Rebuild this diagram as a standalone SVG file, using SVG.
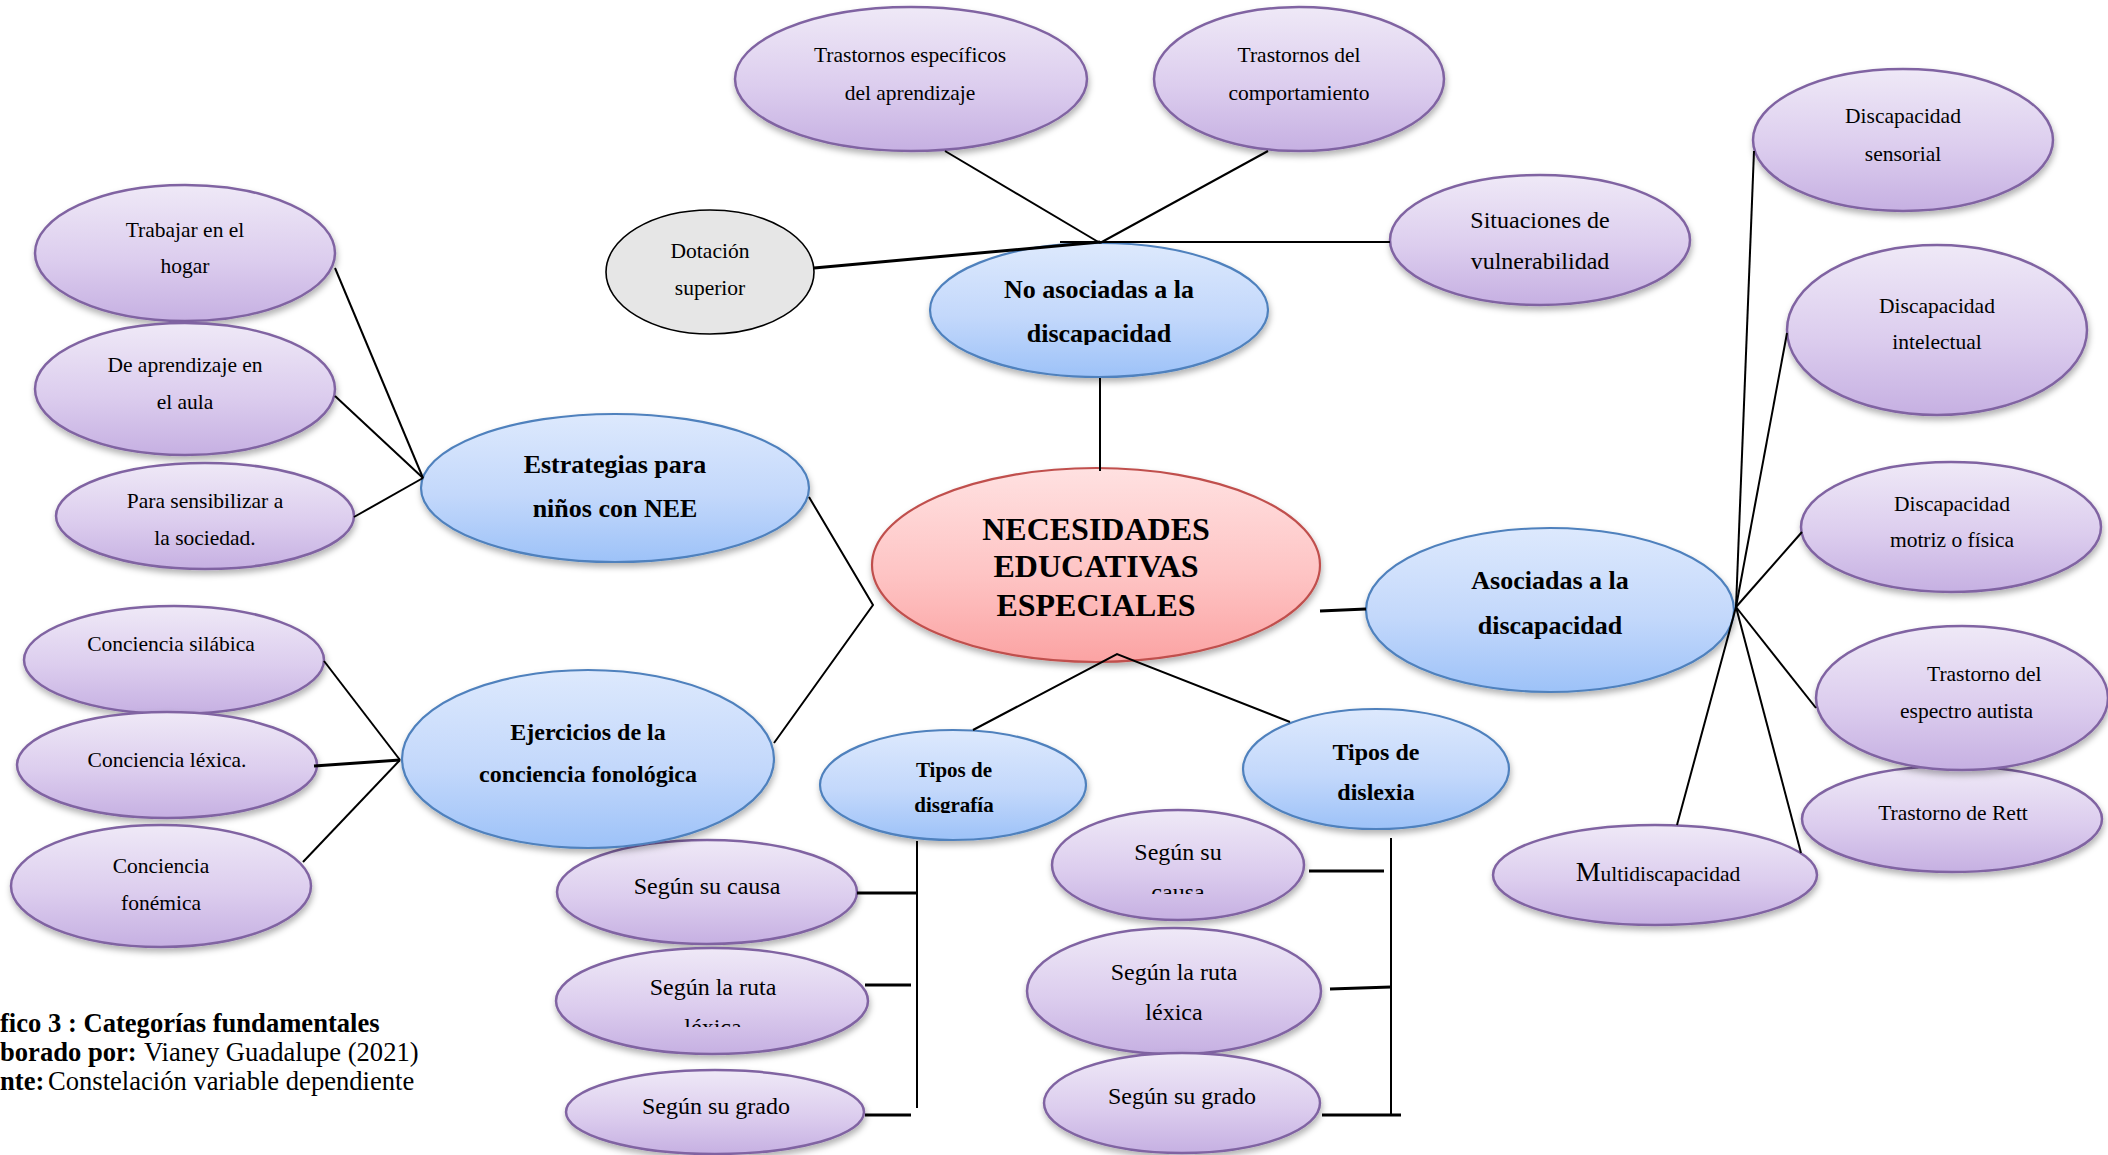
<svg xmlns="http://www.w3.org/2000/svg" width="2108" height="1155" viewBox="0 0 2108 1155">
<style>
text{font-family:"Liberation Serif","Times New Roman",serif;fill:#000;text-anchor:middle}
.p{fill:url(#gp);stroke:#8064a2;stroke-width:2.5;filter:url(#sh)}
.b{fill:url(#gb);stroke:#4f81bd;stroke-width:2.2;filter:url(#sh)}
.r{fill:url(#gr);stroke:#c0504d;stroke-width:2.2;filter:url(#sh)}
.g{fill:#e6e6e6;stroke:#000;stroke-width:1.6}
.s21{font-size:21.5px}
.s24{font-size:24px}
.b21{font-size:21px;font-weight:bold}
.b24{font-size:24px;font-weight:bold}
.b26{font-size:26px;font-weight:bold}
.b32{font-size:32px;font-weight:bold}
.cap{font-size:26.6px;text-anchor:start}
#connectors line,#connectors polyline{stroke:#000;stroke-width:2;fill:none}
#connectors .k{stroke-width:3}
</style>
<defs>
<linearGradient id="gp" x1="0" y1="0" x2="0" y2="1"><stop offset="0" stop-color="#efe9f7"/><stop offset="0.55" stop-color="#dccdee"/><stop offset="1" stop-color="#c6b0e2"/></linearGradient>
<linearGradient id="gb" x1="0" y1="0" x2="0" y2="1"><stop offset="0" stop-color="#dde9fd"/><stop offset="0.55" stop-color="#c3d8fb"/><stop offset="1" stop-color="#9dc2f8"/></linearGradient>
<linearGradient id="gr" x1="0" y1="0" x2="0" y2="1"><stop offset="0" stop-color="#ffe1e1"/><stop offset="0.55" stop-color="#fec4c4"/><stop offset="1" stop-color="#fba3a3"/></linearGradient>
<filter id="sh" x="-10%" y="-10%" width="120%" height="130%"><feDropShadow dx="1" dy="4" stdDeviation="3" flood-color="#000" flood-opacity="0.3"/></filter>
<clipPath id="c1" clipPathUnits="userSpaceOnUse"><rect x="900" y="320" width="400" height="25"/></clipPath>
<clipPath id="c2" clipPathUnits="userSpaceOnUse"><rect x="50" y="520" width="320" height="27"/></clipPath>
<clipPath id="c3" clipPathUnits="userSpaceOnUse"><rect x="820" y="790" width="270" height="23"/></clipPath>
<clipPath id="c4" clipPathUnits="userSpaceOnUse"><rect x="560" y="1005" width="310" height="22"/></clipPath>
<clipPath id="c5" clipPathUnits="userSpaceOnUse"><rect x="1050" y="870" width="260" height="24"/></clipPath>
</defs>
<rect x="0" y="0" width="2108" height="1155" fill="#fff"/>

<g id="n-trastornos-especificos"><ellipse class="p" cx="911" cy="79" rx="176" ry="72"/><text class="s21" x="910" y="62">Trastornos específicos</text><text class="s21" x="910" y="100">del aprendizaje</text></g>
<g id="n-trastornos-comportamiento"><ellipse class="p" cx="1299" cy="79" rx="145" ry="72"/><text class="s21" x="1299" y="62">Trastornos del</text><text class="s21" x="1299" y="100">comportamiento</text></g>
<g id="n-disc-sensorial"><ellipse class="p" cx="1903" cy="140" rx="150" ry="71"/><text class="s21" x="1903" y="123">Discapacidad</text><text class="s21" x="1903" y="161">sensorial</text></g>
<g id="n-situaciones"><ellipse class="p" cx="1540" cy="240" rx="150" ry="65"/><text class="s24" x="1540" y="228">Situaciones de</text><text class="s24" x="1540" y="269">vulnerabilidad</text></g>
<g id="n-dotacion"><ellipse class="g" cx="710" cy="272" rx="104" ry="62"/><text class="s21" x="710" y="258">Dotación</text><text class="s21" x="710" y="295">superior</text></g>
<g id="n-no-asociadas"><ellipse class="b" cx="1099" cy="310" rx="169" ry="67"/><text class="b26" x="1099" y="298">No asociadas a la</text><text class="b26" x="1099" y="342" clip-path="url(#c1)">discapacidad</text></g>
<g id="n-disc-intelectual"><ellipse class="p" cx="1937" cy="330" rx="150" ry="85"/><text class="s21" x="1937" y="313">Discapacidad</text><text class="s21" x="1937" y="349">intelectual</text></g>
<g id="n-disc-motriz"><ellipse class="p" cx="1951" cy="527" rx="150" ry="65"/><text class="s21" x="1952" y="511">Discapacidad</text><text class="s21" x="1952" y="547">motriz o física</text></g>
<g id="n-trabajar-hogar"><ellipse class="p" cx="185" cy="253" rx="150" ry="68"/><text class="s21" x="185" y="237">Trabajar en el</text><text class="s21" x="185" y="273">hogar</text></g>
<g id="n-aprendizaje-aula"><ellipse class="p" cx="185" cy="389" rx="150" ry="66"/><text class="s21" x="185" y="372">De aprendizaje en</text><text class="s21" x="185" y="409">el aula</text></g>
<g id="n-sensibilizar"><ellipse class="p" cx="205" cy="516" rx="149" ry="53"/><text class="s21" x="205" y="508">Para sensibilizar a</text><text class="s21" x="205" y="545" clip-path="url(#c2)">la sociedad.</text></g>
<g id="n-estrategias"><ellipse class="b" cx="615" cy="488" rx="194" ry="74"/><text class="b26" x="615" y="473">Estrategias para</text><text class="b26" x="615" y="517">niños con NEE</text></g>
<g id="n-nee"><ellipse class="r" cx="1096" cy="565" rx="224" ry="97"/><text class="b32" x="1096" y="540">NECESIDADES</text><text class="b32" x="1096" y="577">EDUCATIVAS</text><text class="b32" x="1096" y="616">ESPECIALES</text></g>
<g id="n-asociadas"><ellipse class="b" cx="1550" cy="610" rx="184" ry="82"/><text class="b26" x="1550" y="589">Asociadas a la</text><text class="b26" x="1550" y="634">discapacidad</text></g>
<g id="n-trastorno-rett"><ellipse class="p" cx="1952" cy="819" rx="150" ry="53"/><text class="s21" x="1953" y="820">Trastorno de Rett</text></g>
<g id="n-autista"><ellipse class="p" cx="1962" cy="698" rx="146" ry="72"/><text class="s21" x="1927" y="681" style="text-anchor:start">Trastorno del</text><text class="s21" x="1900" y="718" style="text-anchor:start">espectro autista</text></g>
<g id="n-multidiscapacidad"><ellipse class="p" cx="1655" cy="875" rx="162" ry="50"/><text class="s21" x="1658" y="881"><tspan style="font-size:28px">M</tspan>ultidiscapacidad</text></g>
<g id="n-conc-silabica"><ellipse class="p" cx="174" cy="660" rx="150" ry="54"/><text class="s21" x="171" y="651">Conciencia silábica</text></g>
<g id="n-conc-lexica"><ellipse class="p" cx="167" cy="765" rx="150" ry="53"/><text class="s21" x="167" y="767">Conciencia léxica.</text></g>
<g id="n-conc-fonemica"><ellipse class="p" cx="161" cy="886" rx="150" ry="61"/><text class="s21" x="161" y="873">Conciencia</text><text class="s21" x="161" y="910">fonémica</text></g>
<g id="n-g-causa"><ellipse class="p" cx="707" cy="892" rx="150" ry="52"/><text class="s24" x="707" y="894">Según su causa</text></g>
<g id="n-ejercicios"><ellipse class="b" cx="588" cy="759" rx="186" ry="89"/><text class="b24" x="588" y="740">Ejercicios de la</text><text class="b24" x="588" y="782">conciencia fonológica</text></g>
<g id="n-disgrafia"><ellipse class="b" cx="953" cy="785" rx="133" ry="55"/><text class="b21" x="954" y="777">Tipos de</text><text class="b21" x="954" y="812" clip-path="url(#c3)">disgrafía</text></g>
<g id="n-g-ruta"><ellipse class="p" cx="712" cy="1001" rx="156" ry="53"/><text class="s24" x="713" y="995">Según la ruta</text><text class="s24" x="713" y="1035" clip-path="url(#c4)">léxica</text></g>
<g id="n-g-grado"><ellipse class="p" cx="715" cy="1112" rx="149" ry="42"/><text class="s24" x="716" y="1114">Según su grado</text></g>
<g id="n-dislexia"><ellipse class="b" cx="1376" cy="769" rx="133" ry="60"/><text class="b24" x="1376" y="760">Tipos de</text><text class="b24" x="1376" y="800">dislexia</text></g>
<g id="n-x-causa"><ellipse class="p" cx="1178" cy="865" rx="126" ry="55"/><text class="s24" x="1178" y="860">Según su</text><text class="s24" x="1178" y="900" clip-path="url(#c5)">causa</text></g>
<g id="n-x-ruta"><ellipse class="p" cx="1174" cy="991" rx="147" ry="63"/><text class="s24" x="1174" y="980">Según la ruta</text><text class="s24" x="1174" y="1020">léxica</text></g>
<g id="n-x-grado"><ellipse class="p" cx="1182" cy="1103" rx="138" ry="50"/><text class="s24" x="1182" y="1104">Según su grado</text></g>

<g id="connectors">
<line x1="945" y1="151" x2="1100" y2="243"/>
<line x1="1268" y1="151" x2="1100" y2="243"/>
<line x1="1060" y1="242" x2="1390" y2="242"/>
<line x1="814" y1="268" x2="1100" y2="242" class="k"/>
<line x1="1100" y1="378" x2="1100" y2="471"/>
<polyline points="809,497 873,605 774,743"/>
<line x1="1320" y1="611" x2="1366" y2="609" class="k"/>
<polyline points="973,730 1117,654 1290,722"/>
<line x1="423" y1="478" x2="335" y2="268"/>
<line x1="423" y1="478" x2="335" y2="396"/>
<line x1="423" y1="478" x2="354" y2="517"/>
<line x1="400" y1="760" x2="324" y2="661"/>
<line x1="400" y1="760" x2="314" y2="766" class="k"/>
<line x1="400" y1="760" x2="303" y2="862"/>
<line x1="1736" y1="607" x2="1754" y2="151"/>
<line x1="1736" y1="607" x2="1787" y2="333"/>
<line x1="1736" y1="607" x2="1802" y2="532"/>
<line x1="1736" y1="607" x2="1816" y2="708"/>
<line x1="1736" y1="607" x2="1677" y2="825"/>
<line x1="1736" y1="607" x2="1801" y2="853"/>
<line x1="917" y1="841" x2="917" y2="1108"/>
<line x1="857" y1="893" x2="917" y2="893" class="k"/>
<line x1="865" y1="985" x2="911" y2="985" class="k"/>
<line x1="865" y1="1115" x2="911" y2="1115" class="k"/>
<line x1="1391" y1="838" x2="1391" y2="1114"/>
<line x1="1309" y1="871" x2="1384" y2="871" class="k"/>
<line x1="1330" y1="989" x2="1391" y2="987" class="k"/>
<line x1="1322" y1="1115" x2="1401" y2="1115" class="k"/>
</g>

<g id="caption">
<text class="cap" x="0" y="1032" font-weight="bold">fico 3 : Categorías fundamentales</text>
<text class="cap" x="0" y="1061"><tspan font-weight="bold">borado por:</tspan><tspan x="144">Vianey Guadalupe (2021)</tspan></text>
<text class="cap" x="0" y="1090"><tspan font-weight="bold">nte:</tspan><tspan x="48">Constelación variable dependiente</tspan></text>
</g>
</svg>
